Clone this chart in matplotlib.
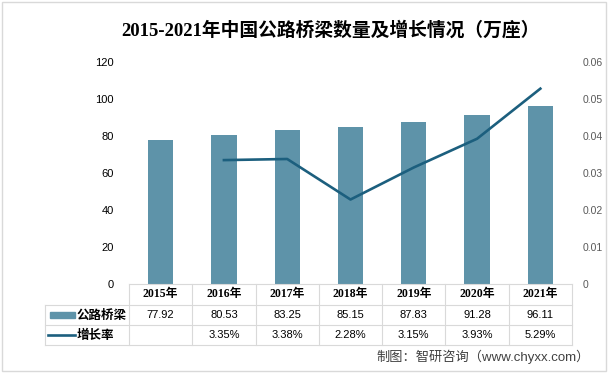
import matplotlib.pyplot as plt
import numpy as np

plt.rcParams['font.family'] = ['Liberation Sans', 'Noto Sans CJK SC', 'DejaVu Sans']

years = ['2015年', '2016年', '2017年', '2018年', '2019年', '2020年', '2021年']
bridges = [77.92, 80.53, 83.25, 85.15, 87.83, 91.28, 96.11]
growth = [np.nan, 0.0335, 0.0338, 0.0228, 0.0315, 0.0393, 0.0529]
growth_labels = ['', '3.35%', '3.38%', '2.28%', '3.15%', '3.93%', '5.29%']

bar_color = '#5E93A9'
line_color = '#1C5F7E'
grid_color = '#D9D9D9'


def main():
    fig = plt.figure(figsize=(6.08, 3.73), dpi=100)
    ax = fig.add_axes([129 / 608, 1 - 283.5 / 373, 443 / 608, 221 / 373])
    ax2 = ax.twinx()

    x = np.arange(len(years))
    ax.bar(x, bridges, width=0.4, color=bar_color, zorder=2)
    ax2.plot(x, growth, color=line_color, lw=1.9, zorder=3)

    ax.set_xlim(-0.5, len(years) - 0.5)
    ax.set_ylim(0, 120)
    ax.set_yticks(range(0, 121, 20))
    ax2.set_ylim(0, 0.06)
    ax2.set_yticks([0, 0.01, 0.02, 0.03, 0.04, 0.05, 0.06])
    ax2.set_yticklabels(['0', '0.01', '0.02', '0.03', '0.04', '0.05', '0.06'])
    ax.set_xticks([])
    for a in (ax, ax2):
        for s in a.spines.values():
            s.set_visible(False)
    ax.tick_params(axis='y', length=0, pad=11, labelsize=8, labelcolor='#000000')
    ax2.tick_params(axis='y', length=0, pad=8, labelsize=7.5, labelcolor='#595959')

    # data table below the plot
    tr = ax.get_xaxis_transform()
    unit = 221.0
    r0, r1, r2, r3 = 0, -21.5 / unit, -41.5 / unit, -61.5 / unit
    left = -0.5 - 84 / 63.29
    right = len(years) - 0.5
    kw = dict(transform=tr, color=grid_color, lw=0.8, clip_on=False)
    ax.plot([-0.5, right], [r0, r0], **kw)
    for yy in (r1, r2, r3):
        ax.plot([left, right], [yy, yy], **kw)
    for i in range(len(years) + 1):
        ax.plot([i - 0.5, i - 0.5], [r0, r3], **kw)
    ax.plot([left, left], [r1, r3], **kw)

    for i, (yr, v, g) in enumerate(zip(years, bridges, growth_labels)):
        ax.text(i, (r0 + r1) / 2, yr, transform=tr, ha='center', va='center',
                fontsize=8.5, fontweight='bold',
                family=['Liberation Serif', 'Noto Sans CJK SC'])
        ax.text(i, (r1 + r2) / 2, f'{v:.2f}', transform=tr, ha='center',
                va='center', fontsize=8)
        ax.text(i, (r2 + r3) / 2, g, transform=tr, ha='center', va='center',
                fontsize=8)

    # legend keys in the table
    ax.add_patch(plt.Rectangle((left + 0.08, (r1 + r2) / 2 - 0.014), 0.40, 0.028,
                               transform=tr, color=bar_color, clip_on=False))
    ax.plot([left + 0.05, left + 0.48], [(r2 + r3) / 2] * 2, transform=tr,
            color=line_color, lw=1.9, clip_on=False)
    ax.text(left + 0.5, (r1 + r2) / 2, '公路桥梁', transform=tr, ha='left',
            va='center', fontsize=9, fontweight='bold', family='Noto Sans CJK SC')
    ax.text(left + 0.5, (r2 + r3) / 2, '增长率', transform=tr, ha='left',
            va='center', fontsize=9, fontweight='bold', family='Noto Sans CJK SC')

    fig.text(0.543, 0.918, '2015-2021年中国公路桥梁数量及增长情况（万座）',
             ha='center', va='center', fontsize=13.5, fontweight='bold',
             family=['Liberation Serif', 'Noto Sans CJK SC'])
    fig.text(0.97, 0.043, '制图：智研咨询（www.chyxx.com）', ha='right',
             va='center', fontsize=9.5, color='#404040')

    fig.patches.append(plt.Rectangle((0.004, 0.006), 0.992, 0.988,
                                     transform=fig.transFigure, fill=False,
                                     ec='#D9D9D9', lw=1))

    fig.savefig('out.png', dpi=100)


if __name__ == "__main__":
    main()
